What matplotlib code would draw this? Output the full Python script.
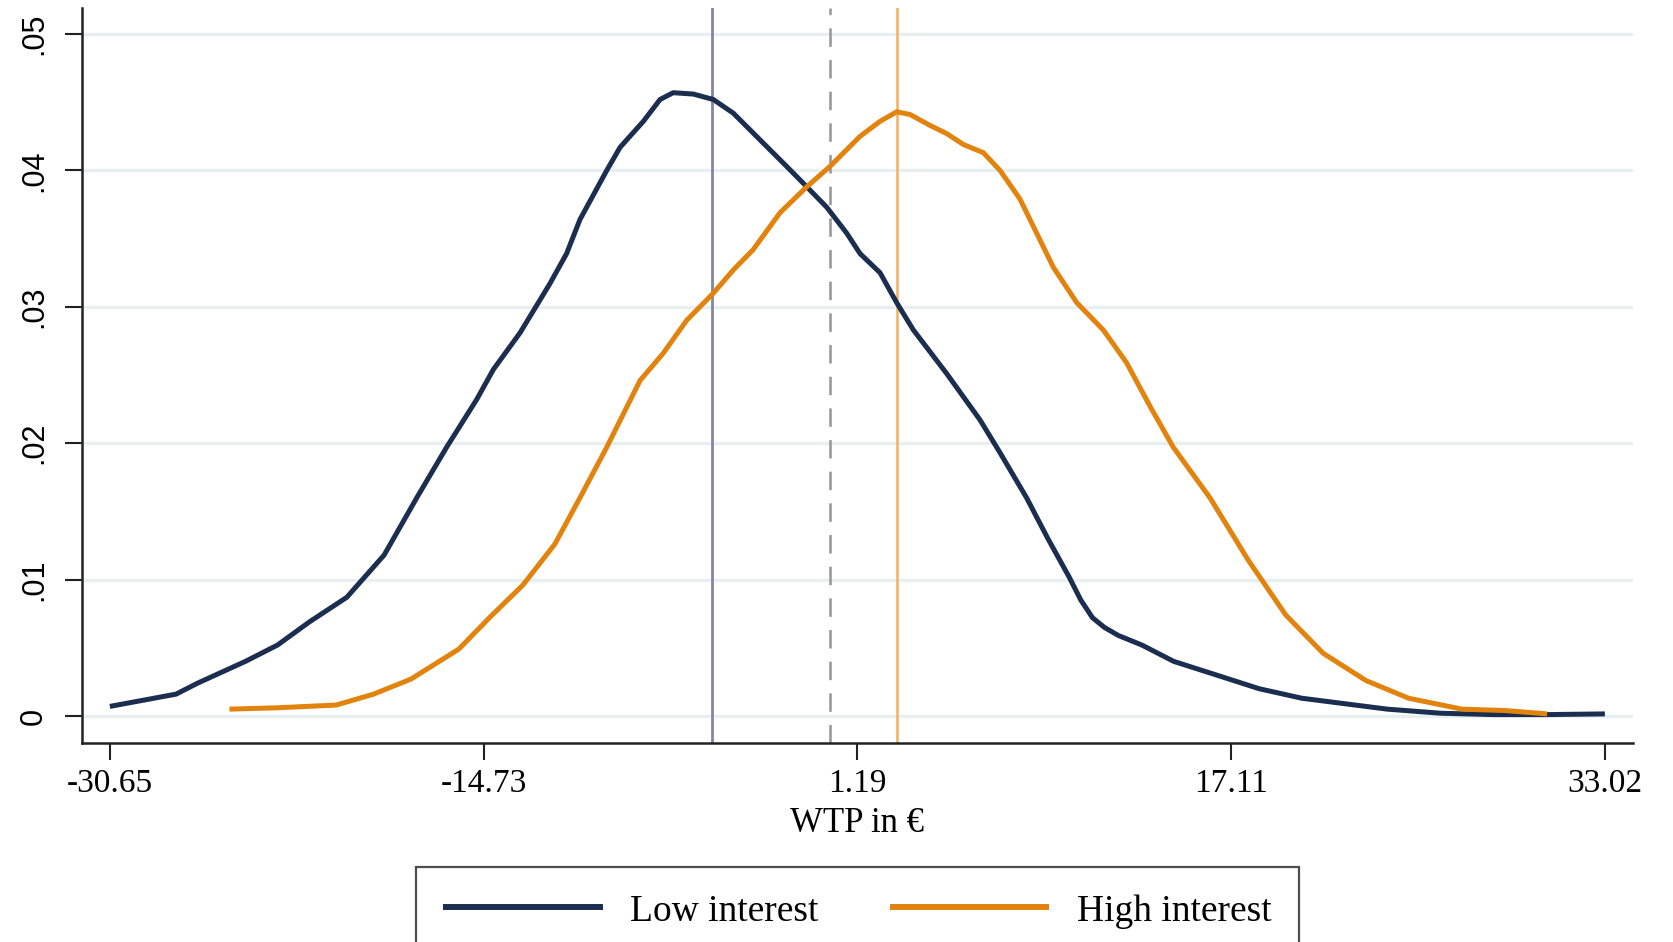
import matplotlib
matplotlib.use("Agg")
import matplotlib.pyplot as plt
from matplotlib import font_manager

# Data (kernel density estimates of WTP)
low_x = [-30.65, -27.83, -26.92, -24.88, -23.51, -22.15, -20.56, -18.97, -17.58, -16.31,
         -15.03, -14.32, -13.18, -11.91, -11.20, -10.63, -9.49, -8.92, -7.93, -7.22,
         -6.66, -5.80, -4.95, -4.10, -2.82, -1.83, -0.97, -0.12, 0.73, 1.30,
         2.15, 2.86, 3.57, 4.99, 6.41, 7.26, 8.39, 9.30, 10.20, 10.70,
         11.20, 11.70, 12.30, 13.30, 14.66, 16.48, 18.29, 20.11, 21.93, 23.75,
         26.02, 28.29, 30.56, 33.02]
low_y = [0.0007, 0.0016, 0.0024, 0.0040, 0.0052, 0.0069, 0.0087, 0.0118, 0.0160, 0.0197,
         0.0232, 0.0254, 0.0281, 0.0317, 0.0339, 0.0364, 0.0400, 0.0417, 0.0436, 0.0452,
         0.0457, 0.0456, 0.0452, 0.0442, 0.0420, 0.0403, 0.0388, 0.0373, 0.0354, 0.0339,
         0.0325, 0.0303, 0.0283, 0.0251, 0.0217, 0.0193, 0.0160, 0.0130, 0.0102, 0.0085,
         0.0072, 0.0065, 0.0059, 0.0052, 0.0040, 0.0030, 0.0020, 0.0013, 0.0009, 0.0005,
         0.0002, 0.0001, 0.0001, 0.00015]

high_x = [-25.56, -23.51, -21.01, -19.42, -17.83, -15.79, -14.43, -13.06, -11.70, -10.63,
          -9.49, -8.07, -7.08, -6.09, -4.95, -4.10, -3.25, -2.11, -0.97, 0.02,
          1.30, 2.15, 2.86, 3.43, 4.28, 4.99, 5.70, 6.55, 7.26, 8.11,
          8.82, 9.53, 10.53, 11.66, 12.65, 13.65, 14.64, 16.20, 17.84, 19.43,
          21.02, 22.84, 24.66, 26.93, 28.75, 30.56]
high_y = [0.0005, 0.0006, 0.0008, 0.0016, 0.0027, 0.0049, 0.0073, 0.0096, 0.0126, 0.0160,
          0.0197, 0.0246, 0.0266, 0.0290, 0.0310, 0.0327, 0.0342, 0.0369, 0.0388, 0.0403,
          0.0425, 0.0436, 0.0443, 0.0441, 0.0433, 0.0427, 0.0419, 0.0413, 0.0400, 0.0379,
          0.0354, 0.0329, 0.0303, 0.0283, 0.0259, 0.0227, 0.0197, 0.0160, 0.0114, 0.0074,
          0.0046, 0.0026, 0.0013, 0.0005, 0.0004, 0.00015]

mean_low = -5.02
mean_all = 0.01
mean_high = 2.86

x_ticks = [-30.65, -14.73, 1.19, 17.11, 33.02]
x_ticklabels = ["-30.65", "-14.73", "1.19", "17.11", "33.02"]
y_ticks = [0, 0.01, 0.02, 0.03, 0.04, 0.05]
y_ticklabels = ["0", ".01", ".02", ".03", ".04", ".05"]

NAVY = "#1c2e4f"
ORANGE = "#e2830d"

plt.rcParams["font.family"] = ["Liberation Serif", "DejaVu Serif"]
installed = {f.name for f in font_manager.fontManager.ttflist}
ysans = ["Liberation Sans Narrow", "Liberation Sans", "DejaVu Sans"]
ysize = 27 if "Liberation Sans Narrow" in installed else 22

fig = plt.figure(figsize=(16.73, 9.42), dpi=100)
ax = fig.add_axes([0.04884, 0.2113, 0.927, 0.7802])

for yv in y_ticks:
    ax.axhline(yv, color="#e8eff0", lw=2.4, zorder=0)

ax.axvline(mean_low, color="#8088a2", lw=2.0, zorder=1)
ax.axvline(mean_all, color="#9a9a9a", lw=1.9, ls=(0, (7, 5)), zorder=1)
ax.axvline(mean_high, color="#f0b468", lw=1.9, zorder=1)

ax.plot(low_x, low_y, color=NAVY, lw=3.6, label="Low interest", zorder=3,
        solid_joinstyle="round", solid_capstyle="butt")
ax.plot(high_x, high_y, color=ORANGE, lw=3.6, label="High interest", zorder=3,
        solid_joinstyle="round", solid_capstyle="butt")

ax.set_xlim(-31.85, 34.2)
ax.set_ylim(-0.00198, 0.05191)

ax.set_xticks(x_ticks)
ax.set_xticklabels(x_ticklabels, fontsize=24)
ax.set_yticks(y_ticks)
ax.set_yticklabels(y_ticklabels, fontsize=ysize, rotation=90, va="center",
                   family=ysans)
ax.tick_params(axis="both", direction="out", length=12.5, width=1.5, color="#222222")
ax.tick_params(axis="x", pad=6)
ax.tick_params(axis="y", pad=11)

for s in ["top", "right"]:
    ax.spines[s].set_visible(False)
for s in ["left", "bottom"]:
    ax.spines[s].set_linewidth(1.8)
    ax.spines[s].set_color("#222222")

ax.set_xlabel("WTP in €", fontsize=25, labelpad=6)

leg = fig.legend(loc="upper center", bbox_to_anchor=(0.5125, 0.0796), ncol=2,
                 fontsize=27, frameon=True, fancybox=False, handlelength=4.25,
                 handletextpad=0.74, columnspacing=1.9, borderpad=0.72,
                 borderaxespad=0)
leg.get_frame().set_edgecolor("#222222")
leg.get_frame().set_linewidth(1.6)
for line in leg.get_lines():
    line.set_linewidth(4.3)

fig.savefig("out.png", dpi=100)
